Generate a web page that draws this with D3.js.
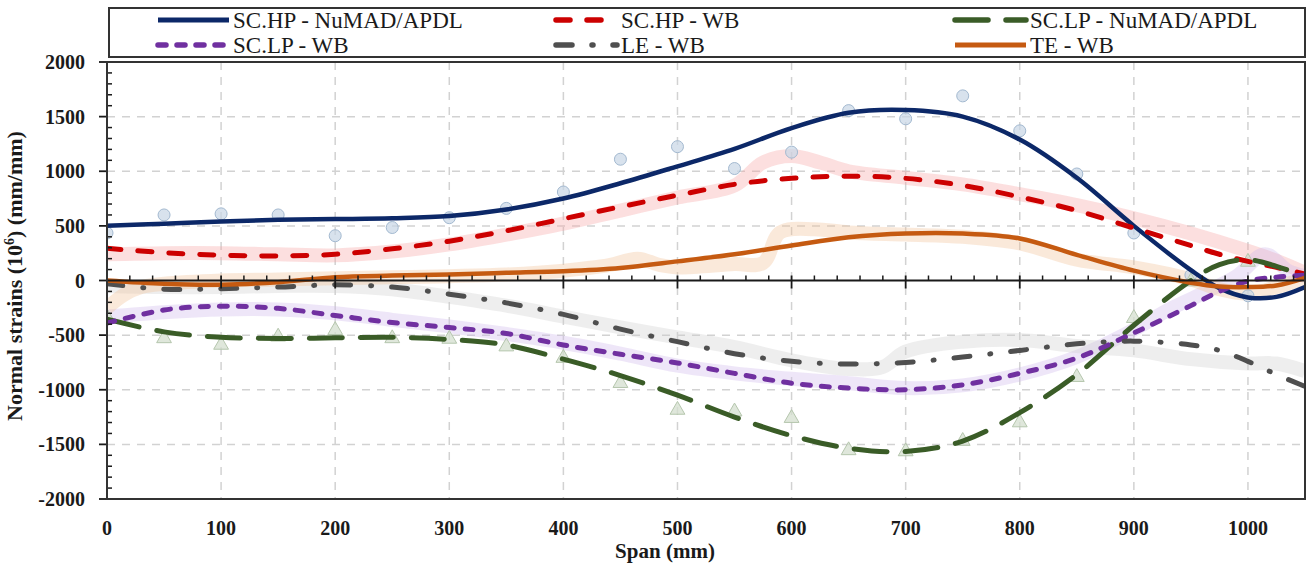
<!DOCTYPE html>
<html>
<head>
<meta charset="utf-8">
<script src="https://cdn.jsdelivr.net/npm/d3@7"></script>
<style>
  body { margin: 0; background: #fff; }
  svg { display: block; }
  text { font-family: "Liberation Serif", "Times New Roman", serif; fill: #1a1a1a; }
</style>
</head>
<body>
<svg id="chart" width="1309" height="570"></svg>
<script>
// Span positions (mm) of the fitted curves
const spanFit = [0,50,100,150,200,250,300,350,400,450,500,550,600,650,700,750,800,850,900,950,975,1000,1025,1050];

// Fitted strain curves (10^-6 mm/mm)
const scHpNumad = [500,520,540,555,562,570,590,650,750,890,1045,1205,1395,1535,1560,1500,1290,940,500,95,-70,-155,-150,-60];
const scHpWb    = [295,255,232,225,240,290,360,455,565,675,780,880,935,955,935,870,765,640,480,320,240,175,120,60];
const scLpNumad = [-355,-470,-520,-530,-525,-520,-540,-590,-720,-870,-1050,-1250,-1420,-1535,-1565,-1470,-1210,-860,-410,0,145,190,130,35];
const scLpWb    = [-390,-270,-235,-255,-320,-385,-430,-485,-590,-675,-755,-850,-940,-985,-1000,-955,-850,-710,-480,-230,-100,-5,30,50];
const leWb      = [-30,-80,-75,-60,-40,-60,-125,-205,-310,-445,-560,-670,-740,-765,-750,-700,-640,-580,-555,-590,-640,-740,-860,-970];
const teWb      = [0,-30,-38,-15,30,45,55,70,85,115,175,240,320,395,430,430,385,235,90,-20,-55,-60,-45,25];

// NuMAD/APDL point results
const markerSpan = [0,50,100,150,200,250,300,350,400,450,500,550,600,650,700,750,800,850,900,950,1000];
const scHpNumadPts = [435,600,610,600,410,485,575,660,810,1110,1225,1025,1175,1555,1480,1690,1370,975,435,50,-140];
const scLpNumadPts = [-335,-530,-590,-515,-455,-530,-535,-605,-710,-940,-1185,-1200,-1260,-1555,-1565,-1470,-1300,-885,-345,-10,170];

// Raw WB readings (shown as faint bands)
const scHpWbRawSpan = [0,50,100,150,200,250,300,350,400,450,500,550,575,600,625,650,700,750,800,850,900,950,1000,1025,1050];
const scHpWbRaw     = [240,250,250,240,230,265,330,420,520,640,760,870,1080,1140,1080,1000,940,880,790,690,570,430,270,180,70];
const scLpWbRawSpan = [0,50,100,150,200,250,300,350,400,450,500,550,600,650,700,750,800,850,900,930,960,990,1015,1035,1050];
const scLpWbRaw     = [-330,-290,-265,-265,-300,-360,-420,-490,-570,-670,-780,-850,-900,-940,-985,-960,-860,-700,-450,-270,-120,40,240,90,40];
const leWbRawSpan   = [0,50,100,150,200,250,300,350,400,450,500,550,600,650,680,700,750,800,850,900,950,1000,1025,1050];
const leWbRaw       = [-50,-60,-60,-50,-50,-80,-150,-230,-330,-430,-520,-610,-730,-810,-790,-650,-560,-545,-600,-640,-720,-760,-760,-830];
const teWbRawSpan   = [0,15,30,50,100,150,200,250,300,350,400,440,465,485,500,550,575,590,620,650,700,750,800,850,900,950,975,1000,1025,1050];
const teWbRaw       = [-250,-130,-60,-30,0,10,20,30,40,55,90,140,200,140,120,150,160,440,470,440,420,400,340,190,120,10,-80,-120,-60,20];

// Axis ticks and labels
const xTicks = [0,100,200,300,400,500,600,700,800,900,1000];
const yTicks = [-2000,-1500,-1000,-500,0,500,1000,1500,2000];
const legendLabels = ["SC.HP - NuMAD/APDL","SC.HP - WB","SC.LP - NuMAD/APDL","SC.LP - WB","LE - WB","TE - WB"];
const xTitle = "Span (mm)";

const svg = d3.select("#chart");
const x = d3.scaleLinear().domain([0, 1050]).range([107, 1305]);
const y = d3.scaleLinear().domain([-2000, 2000]).range([499, 62]);

const series = [
  { name: legendLabels[0], values: scHpNumad, color: "#0c2868", dash: null, width: 4.5 },
  { name: legendLabels[1], values: scHpWb,    color: "#cc0000", dash: "14,17", width: 5 },
  { name: legendLabels[2], values: scLpNumad, color: "#3a5c27", dash: "33,18", width: 5 },
  { name: legendLabels[3], values: scLpWb,    color: "#7030a0", dash: "8,11", width: 5 },
  { name: legendLabels[4], values: leWb,      color: "#4f4f4f", dash: "16,20,1,20", width: 5 },
  { name: legendLabels[5], values: teWb,      color: "#c55a11", dash: null, width: 4.5 }
];

const bands = [
  { span: scHpWbRawSpan, values: scHpWbRaw, color: "#f5a3a3" },
  { span: scLpWbRawSpan, values: scLpWbRaw, color: "#cdb6ea" },
  { span: leWbRawSpan,   values: leWbRaw,   color: "#cfcfcf" },
  { span: teWbRawSpan,   values: teWbRaw,   color: "#f1c196" }
];

// Grid
const grid = svg.append("g");
grid.selectAll("line.v").data(xTicks.filter(d => d > 0)).join("line")
  .attr("x1", d => x(d)).attr("x2", d => x(d)).attr("y1", y(2000)).attr("y2", y(-2000))
  .attr("stroke", "#d2d2d2").attr("stroke-width", 1.5).attr("stroke-dasharray", "8,7");
grid.selectAll("line.h").data(yTicks.filter(d => d !== 0 && Math.abs(d) < 2000)).join("line")
  .attr("x1", x(0)).attr("x2", x(1050)).attr("y1", d => y(d)).attr("y2", d => y(d))
  .attr("stroke", "#d2d2d2").attr("stroke-width", 1.5).attr("stroke-dasharray", "8,7");

svg.append("clipPath").attr("id", "plotClip")
  .append("rect").attr("x", x(0)).attr("y", y(2000)).attr("width", x(1050) - x(0)).attr("height", y(-2000) - y(2000));
const plot = svg.append("g").attr("clip-path", "url(#plotClip)");

// Faint raw-data bands
const bandLine = (sp) => d3.line().x((d, i) => x(sp[i])).y(d => y(d)).curve(d3.curveCatmullRom.alpha(0.5));
bands.forEach(b => {
  plot.append("path").datum(b.values)
    .attr("d", bandLine(b.span))
    .attr("fill", "none").attr("stroke", b.color).attr("stroke-opacity", 0.35)
    .attr("stroke-width", 14).attr("stroke-linejoin", "round");
});

// Point markers
plot.selectAll("circle.hp").data(scHpNumadPts).join("circle")
  .attr("cx", (d, i) => x(markerSpan[i])).attr("cy", d => y(d)).attr("r", 6)
  .attr("fill", "#c8d6e6").attr("fill-opacity", 0.7).attr("stroke", "#a3b9d0").attr("stroke-width", 1);
const tri = d3.symbol().type(d3.symbolTriangle).size(95);
plot.selectAll("path.lp").data(scLpNumadPts).join("path")
  .attr("d", tri)
  .attr("transform", (d, i) => `translate(${x(markerSpan[i])},${y(d)})`)
  .attr("fill", "#d4dfcf").attr("fill-opacity", 0.75).attr("stroke", "#b5c6ad").attr("stroke-width", 1);

// Zero axis with ticks
const axisG = svg.append("g");
axisG.append("line").attr("x1", x(0)).attr("x2", x(1050)).attr("y1", y(0)).attr("y2", y(0))
  .attr("stroke", "#1a1a1a").attr("stroke-width", 2);
axisG.selectAll("line.minx").data(d3.range(20, 1050, 20).filter(d => d % 100 !== 0)).join("line")
  .attr("x1", d => x(d)).attr("x2", d => x(d)).attr("y1", y(0)).attr("y2", y(0) - 5)
  .attr("stroke", "#1a1a1a").attr("stroke-width", 1.5);
axisG.selectAll("line.majx").data(xTicks.filter(d => d > 0)).join("line")
  .attr("x1", d => x(d)).attr("x2", d => x(d)).attr("y1", y(0) - 5).attr("y2", y(0) + 8)
  .attr("stroke", "#1a1a1a").attr("stroke-width", 1.8);

// Left axis
axisG.append("line").attr("x1", x(0)).attr("x2", x(0)).attr("y1", y(2000)).attr("y2", y(-2000))
  .attr("stroke", "#1a1a1a").attr("stroke-width", 2);
axisG.selectAll("line.miny").data(d3.range(-1900, 2000, 100).filter(d => d % 500 !== 0)).join("line")
  .attr("x1", x(0)).attr("x2", x(0) + 5).attr("y1", d => y(d)).attr("y2", d => y(d))
  .attr("stroke", "#1a1a1a").attr("stroke-width", 1.5);
axisG.selectAll("line.majy").data(yTicks).join("line")
  .attr("x1", x(0) - 8).attr("x2", x(0)).attr("y1", d => y(d)).attr("y2", d => y(d))
  .attr("stroke", "#1a1a1a").attr("stroke-width", 1.8);

// Series lines
const line = d3.line().x((d, i) => x(spanFit[i])).y(d => y(d)).curve(d3.curveCatmullRom.alpha(0.5));
series.forEach(s => {
  plot.append("path").datum(s.values)
    .attr("d", line)
    .attr("fill", "none").attr("stroke", s.color).attr("stroke-width", s.width)
    .attr("stroke-linecap", s.dash ? "round" : "butt").attr("stroke-linejoin", "round")
    .attr("stroke-dasharray", s.dash);
});

// Plot frame
svg.append("rect").attr("x", x(0)).attr("y", y(2000)).attr("width", x(1050) - x(0)).attr("height", y(-2000) - y(2000))
  .attr("fill", "none").attr("stroke", "#333").attr("stroke-width", 2);

// Tick labels
svg.append("g").selectAll("text").data(yTicks).join("text")
  .attr("x", 85).attr("y", d => y(d)).attr("dy", "0.35em").attr("text-anchor", "end")
  .attr("font-size", 20).attr("font-weight", "bold").text(d => d);
svg.append("g").selectAll("text").data(xTicks).join("text")
  .attr("x", d => x(d)).attr("y", 528).attr("dy", "0.35em").attr("text-anchor", "middle")
  .attr("font-size", 20).attr("font-weight", "bold").text(d => d);

// Axis titles
svg.append("text").attr("x", 665).attr("y", 551).attr("dy", "0.35em").attr("text-anchor", "middle")
  .attr("font-size", 21).attr("font-weight", "bold").text(xTitle);
const yt = svg.append("text").attr("transform", "translate(22,276) rotate(-90)")
  .attr("text-anchor", "middle").attr("font-size", 22).attr("font-weight", "bold");
yt.append("tspan").text("Normal strains (10");
yt.append("tspan").attr("dy", -8).attr("font-size", 14).text("6");
yt.append("tspan").attr("dy", 8).text(") (mm/mm)");

// Legend
const lg = svg.append("g");
lg.append("rect").attr("x", 109).attr("y", 8).attr("width", 1196).attr("height", 49)
  .attr("fill", "#fff").attr("stroke", "#333").attr("stroke-width", 2);
const colX = [158, 556, 955];
const rowY = [20, 45];
series.forEach((s, i) => {
  const cx = colX[i % 3], cy = rowY[Math.floor(i / 3)];
  const len = i % 3 === 1 ? 61 : 71;
  lg.append("line").attr("x1", cx).attr("x2", cx + len).attr("y1", cy).attr("y2", cy)
    .attr("stroke", s.color).attr("stroke-width", s.width + 0.5)
    .attr("stroke-linecap", s.dash ? "round" : "butt").attr("stroke-dasharray", s.dash);
  lg.append("text").attr("x", cx + len + 4).attr("y", cy).attr("dy", "0.35em")
    .attr("font-size", 23).text(s.name);
});
</script>
</body>
</html>
